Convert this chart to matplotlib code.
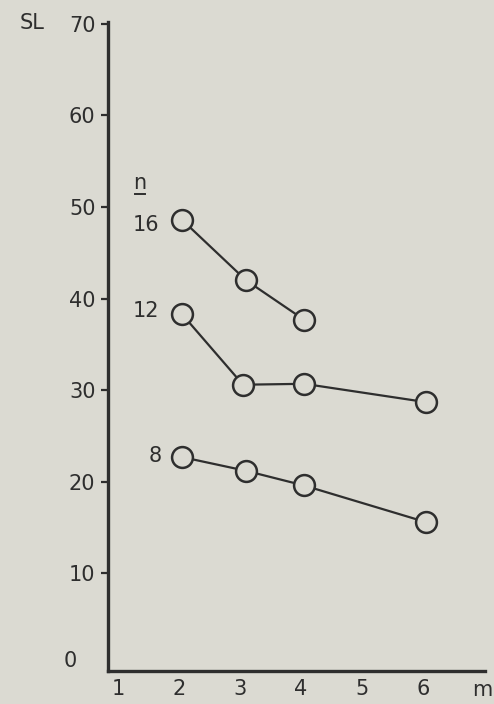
import matplotlib.pyplot as plt
import matplotlib.transforms as mtransforms

# values
m_16 = [2.05, 3.1, 4.05]
sl_16 = [48.6, 42.0, 37.7]

m_12 = [2.05, 3.05, 4.05, 6.05]
sl_12 = [38.3, 30.6, 30.7, 28.7]

m_8 = [2.05, 3.1, 4.05, 6.05]
sl_8 = [22.7, 21.2, 19.6, 15.6]

series_labels = ["16", "12", "8"]
y_ticks = [10, 20, 30, 40, 50, 60, 70]
x_ticks = [1, 2, 3, 4, 5, 6]

BG = "#dbdad2"
INK = "#2e2e2e"
FS = 15

plt.rcParams["font.family"] = ["DejaVu Sans"]

fig = plt.figure(figsize=(4.94, 7.04), dpi=100, facecolor=BG)
ax = fig.add_axes([0.2186, 0.0469, 0.7634, 0.9219])
ax.set_facecolor(BG)

style = dict(color=INK, linewidth=1.6, marker="o", markersize=15,
             markerfacecolor=BG, markeredgecolor=INK, markeredgewidth=1.8,
             clip_on=False)
for xs, ys in [(m_16, sl_16), (m_12, sl_12), (m_8, sl_8)]:
    ax.plot(xs, ys, **style)

ax.set_xlim(0.836, 7.02)
ax.set_ylim(-0.65, 70.2)

for side in ["top", "right"]:
    ax.spines[side].set_visible(False)
for side in ["left", "bottom"]:
    ax.spines[side].set_linewidth(2.4)
    ax.spines[side].set_color(INK)

ax.set_yticks(y_ticks)
ax.set_xticks(x_ticks)
ax.tick_params(axis="y", direction="out", length=5, width=1.6, color=INK,
               labelsize=FS, labelcolor=INK, pad=4)
ax.tick_params(axis="x", length=0, labelsize=FS, labelcolor=INK, pad=6)

trans_y = mtransforms.blended_transform_factory(fig.transFigure, ax.transData)
ax.text(0.142, 0.4, "0", transform=trans_y, fontsize=FS, color=INK,
        ha="center", va="center")
ax.text(0.065, 70.1, "SL", transform=trans_y, fontsize=FS, color=INK,
        ha="center", va="center")
ax.text(6.98, -2.7, "m", fontsize=FS, color=INK, ha="center", va="center",
        clip_on=False)

# series labels (n values)
ax.text(1.36, 52.6, "n", fontsize=FS, color=INK, ha="center", va="center")
ax.plot([1.28, 1.44], [51.4, 51.4], color=INK, linewidth=1.4, clip_on=False)
label_pos = [(1.68, 48.0), (1.68, 38.7), (1.72, 22.8)]
for text, (x, y) in zip(series_labels, label_pos):
    ax.text(x, y, text, fontsize=FS, color=INK, ha="right", va="center")

fig.savefig("out.png", dpi=100, facecolor=BG)
